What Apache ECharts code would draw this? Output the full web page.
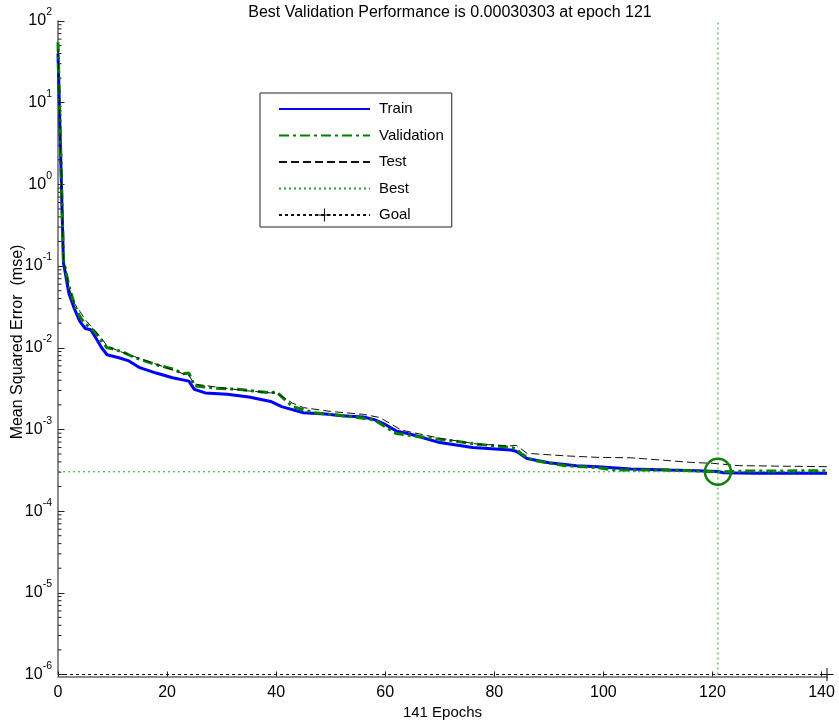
<!DOCTYPE html>
<html><head><meta charset="utf-8">
<script src="https://cdn.jsdelivr.net/npm/echarts@6/dist/echarts.min.js"></script>
<style>html,body{margin:0;padding:0;background:#fff}#c{width:839px;height:720px}</style>
</head><body><div id="c"></div>
<script>
// ---- data ----
const titleText = 'Best Validation Performance is 0.00030303 at epoch 121';
const xTicks = [0, 20, 40, 60, 80, 100, 120, 140];
const yTickExps = [-6, -5, -4, -3, -2, -1, 0, 1, 2];
const bestEpoch = 121;
const bestPerf = 0.00030303;
const goalValue = 1e-6;
const lastEpoch = 141;

const trainEpochs = [0, 1, 2, 3, 4, 5, 6, 7, 8, 9, 11, 13, 15, 18, 21, 24, 25, 27, 31, 35, 39, 41, 45, 49, 52, 56, 58, 60, 62, 65, 70, 76, 83, 84, 86, 90, 95, 99, 105, 112, 117, 121, 122, 128, 141];
const trainMse = [40, 0.11, 0.046, 0.03, 0.021, 0.0172, 0.0166, 0.013, 0.010, 0.0082, 0.0076, 0.0069, 0.0057, 0.0049, 0.0043, 0.0039, 0.0031, 0.0028, 0.0027, 0.0025, 0.0022, 0.0019, 0.0016, 0.00155, 0.00147, 0.00142, 0.00132, 0.00115, 0.00096, 0.00086, 0.00069, 0.00060, 0.00056, 0.00054, 0.00044, 0.00039, 0.00036, 0.00035, 0.000327, 0.000318, 0.000312, 0.000306, 0.000295, 0.00029, 0.00029];

const valEpochs = [0, 1, 2, 3, 4, 5, 6, 7, 8, 9, 10, 12, 14, 18, 21, 23, 24, 25, 29, 33, 39, 40, 43, 47, 52, 56, 58, 60, 62, 66, 70, 77, 83, 84, 85, 87, 93, 99, 102, 111, 117, 121, 127, 141];
const valMse = [55, 0.12, 0.057, 0.034, 0.024, 0.0196, 0.0175, 0.015, 0.012, 0.010, 0.0097, 0.0088, 0.0076, 0.0062, 0.0055, 0.0048, 0.0049, 0.0034, 0.0032, 0.0031, 0.0028, 0.0029, 0.0019, 0.0016, 0.00148, 0.00137, 0.0013, 0.00108, 0.00089, 0.00082, 0.00076, 0.00066, 0.0006, 0.00058, 0.0005, 0.00042, 0.00036, 0.00034, 0.000318, 0.00032, 0.00031, 0.00030303, 0.00031, 0.000312];

const testEpochs = [0, 1, 2, 3, 4, 5, 6, 8, 9, 11, 14, 18, 23, 24, 25, 29, 34, 39, 40, 43, 45, 50, 56, 59, 63, 70, 77, 83, 84, 86, 93, 99, 105, 111, 116, 120, 125, 141];
const testMse = [45, 0.12, 0.055, 0.035, 0.028, 0.022, 0.0185, 0.013, 0.0105, 0.0092, 0.0078, 0.0063, 0.0048, 0.0046, 0.0036, 0.0033, 0.003, 0.0028, 0.0028, 0.0021, 0.00185, 0.00166, 0.00153, 0.0014, 0.00098, 0.00078, 0.00066, 0.00063, 0.00064, 0.00051, 0.000475, 0.000455, 0.00045, 0.00042, 0.000395, 0.000385, 0.00036, 0.00035];

// ---- build ----
const zip = (xs, ys) => xs.map((x, i) => [x, ys[i]]);
const FONT = '"Liberation Sans", Arial, sans-serif';
const minorTicks = [];
for (let e = -6; e < 2; e++) for (let m = 2; m <= 9; m++) minorTicks.push([0, m * Math.pow(10, e)]);
const crossPath = 'path://M0,4.6H10V5.4H0Z M4.6,0H5.4V10H4.6Z';
const noSym = {opacity: 0};

const chart = echarts.init(document.getElementById('c'), null, {renderer: 'canvas'});
chart.setOption({
  animation: false,
  backgroundColor: '#fff',
  textStyle: {fontFamily: FONT},
  grid: {left: 58, right: 12, top: 21, bottom: 45.5, outerBoundsMode: 'none', containLabel: false},
  graphic: [{
    type: 'text', x: 450, y: 12.5,
    style: {text: titleText, align: 'center', verticalAlign: 'middle', fontSize: 16, fontFamily: FONT, fill: '#000'}
  }, {
    type: 'text', x: 18, y: 342, rotation: Math.PI / 2,
    style: {text: 'Mean Squared Error  (mse)', align: 'center', verticalAlign: 'middle', fontSize: 16, fontFamily: FONT, fill: '#000'}
  }],
  legend: {
    orient: 'vertical', left: 260, top: 93,
    padding: [8, 8, 4, 18],
    itemWidth: 91, itemHeight: 16, itemGap: 10.5,
    borderColor: '#222', borderWidth: 1, backgroundColor: '#fff',
    textStyle: {fontSize: 15, fontFamily: FONT, color: '#000', padding: [0, 0, 0, 4], lineHeight: 16},
    data: [
      {name: 'Train', itemStyle: noSym},
      {name: 'Validation', itemStyle: noSym},
      {name: 'Test', itemStyle: noSym},
      {name: 'Best', itemStyle: noSym},
      {name: 'Goal'}
    ],
    selectedMode: false
  },
  xAxis: {
    type: 'value', min: 0, max: lastEpoch,
    offset: 2,
    name: lastEpoch + ' Epochs', nameLocation: 'middle', nameGap: 25,
    nameTextStyle: {fontSize: 15, color: '#000', fontFamily: FONT},
    axisLine: {lineStyle: {color: '#8a8a8a', width: 2}},
    axisTick: {inside: true, length: 5, customValues: xTicks, lineStyle: {color: '#222', width: 1}},
    axisLabel: {customValues: xTicks, margin: 8, fontSize: 16, color: '#000', fontFamily: FONT},
    splitLine: {show: false}
  },
  yAxis: {
    type: 'log', logBase: 10, min: 1e-6, max: 100, interval: 1,
    axisLine: {lineStyle: {color: '#8a8a8a', width: 2}},
    axisTick: {inside: true, length: 6.5, lineStyle: {color: '#222', width: 1}},
    axisLabel: {
      margin: 6,
      formatter: v => {
        const e = Math.round(Math.log10(v));
        return yTickExps.indexOf(e) >= 0 ? '{b|10}{s|' + e + '}' : '';
      },
      rich: {
        b: {fontSize: 16, lineHeight: 28, color: '#000', fontFamily: FONT, verticalAlign: 'middle'},
        s: {fontSize: 10.5, lineHeight: 12, color: '#000', fontFamily: FONT, verticalAlign: 'top'}
      }
    },
    splitLine: {show: false}
  },
  series: [
    {
      type: 'custom', name: 'minorTicks', silent: true, clip: false,
      data: minorTicks,
      renderItem: (params, api) => {
        const p = api.coord([0, api.value(1)]);
        return {type: 'line', shape: {x1: p[0], y1: p[1], x2: p[0] + 3.5, y2: p[1]}, style: {stroke: '#222', lineWidth: 1}};
      }
    },
    {
      name: 'Train', type: 'line', data: zip(trainEpochs, trainMse),
      symbol: 'none', lineStyle: {color: '#0000ff', width: 3}, itemStyle: {color: '#0000ff'}, z: 3
    },
    {
      name: 'Validation', type: 'line', data: zip(valEpochs, valMse),
      symbol: 'none', lineStyle: {color: '#008000', width: 3, type: [10, 4, 3, 4]}, itemStyle: {color: '#008000'}, z: 4
    },
    {
      name: 'Test', type: 'line', data: zip(testEpochs, testMse),
      symbol: 'none', lineStyle: {color: '#111', width: 1, type: [8, 4]}, itemStyle: {color: '#111'}, z: 5
    },
    {
      name: 'Best', type: 'line', data: [[bestEpoch, goalValue], [bestEpoch, 100]],
      symbol: 'none', clip: false, lineStyle: {color: '#2a9a2a', width: 1, type: [2, 3]}, itemStyle: {color: '#2a9a2a'}, z: 6
    },
    {
      name: 'Best', type: 'line', data: [[0, bestPerf], [lastEpoch, bestPerf]],
      symbol: 'none', clip: false, lineStyle: {color: '#2a9a2a', width: 1, type: [2, 3]}, itemStyle: {color: '#2a9a2a'}, z: 6
    },
    {
      name: 'bestCircle', type: 'scatter', data: [[bestEpoch, bestPerf]],
      symbol: 'circle', symbolSize: 26, clip: false,
      itemStyle: {color: 'rgba(0,0,0,0)', borderColor: '#0d830d', borderWidth: 2.5, opacity: 1}, z: 7
    },
    {
      name: 'Goal', type: 'line', clip: false,
      data: [{value: [0, goalValue], symbol: 'none'}, {value: [lastEpoch, goalValue]}],
      symbol: crossPath, symbolSize: 13, showSymbol: true,
      lineStyle: {color: '#111', width: 1, type: [3, 3]}, itemStyle: {color: '#111'}, z: 8
    }
  ]
});
</script>
</body></html>
